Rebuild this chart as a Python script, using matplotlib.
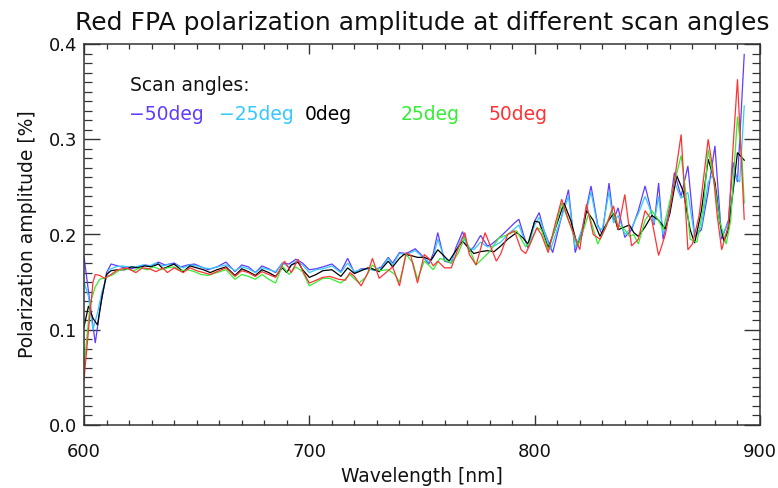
import matplotlib
matplotlib.use("Agg")
import matplotlib.pyplot as plt
from matplotlib.ticker import MultipleLocator

# ---------------- data ----------------
wl_m50 = [600, 602, 605, 607, 610, 612, 615, 618, 621, 624, 627, 630, 633, 636, 640, 643, 646, 649,
          652, 655, 659, 663, 667, 670, 673, 676, 679, 682, 685, 688, 691, 694, 697, 700, 703, 706,
          710, 714, 717, 720, 723, 726, 729, 732, 735, 737, 740, 743, 747, 750, 753, 755, 757, 760,
          763, 765, 768, 771, 773, 776, 779, 781, 784, 788, 791, 793, 795, 797, 800, 802, 804, 808,
          811, 815, 818, 821, 825, 828, 830, 833, 835, 837, 840, 843, 846, 849, 851, 853, 855, 857,
          860, 862, 865, 868, 871, 874, 877, 880, 883, 886, 888, 890, 893]
pol_m50 = [0.177, 0.140, 0.086, 0.120, 0.160, 0.169, 0.167, 0.165, 0.164, 0.166, 0.168, 0.167, 0.171,
           0.168, 0.170, 0.166, 0.168, 0.169, 0.166, 0.163, 0.166, 0.171, 0.161, 0.168, 0.166, 0.160,
           0.167, 0.164, 0.160, 0.170, 0.169, 0.174, 0.170, 0.163, 0.164, 0.166, 0.169, 0.161, 0.175,
           0.160, 0.164, 0.164, 0.163, 0.166, 0.176, 0.170, 0.181, 0.180, 0.185, 0.178, 0.169, 0.180,
           0.202, 0.172, 0.170, 0.186, 0.203, 0.182, 0.187, 0.199, 0.188, 0.190, 0.196, 0.205, 0.212,
           0.216, 0.200, 0.186, 0.214, 0.223, 0.205, 0.181, 0.210, 0.247, 0.181, 0.205, 0.251, 0.210,
           0.200, 0.254, 0.215, 0.228, 0.197, 0.205, 0.225, 0.251, 0.232, 0.210, 0.254, 0.195, 0.230,
           0.265, 0.240, 0.272, 0.198, 0.205, 0.245, 0.293, 0.195, 0.215, 0.276, 0.255, 0.389]

wl_m25 = [600, 602, 604, 606, 608, 611, 614, 617, 620, 623, 626, 629, 632, 635, 638, 641, 644, 647,
          650, 653, 656, 659, 663, 667, 670, 673, 676, 679, 682, 685, 688, 691, 694, 697, 700, 703,
          706, 710, 714, 717, 720, 723, 726, 729, 732, 735, 737, 740, 743, 747, 750, 753, 755, 757,
          760, 763, 765, 768, 771, 773, 776, 779, 782, 785, 788, 791, 793, 795, 797, 800, 802, 804,
          807, 811, 815, 818, 821, 825, 828, 830, 833, 835, 837, 840, 843, 846, 849, 851, 853, 855,
          857, 860, 862, 865, 868, 871, 874, 877, 879, 881, 883, 886, 889, 891, 893]
pol_m25 = [0.150, 0.135, 0.100, 0.118, 0.140, 0.163, 0.166, 0.167, 0.166, 0.166, 0.168, 0.167, 0.170,
           0.167, 0.169, 0.168, 0.165, 0.168, 0.167, 0.165, 0.164, 0.166, 0.168, 0.162, 0.166, 0.164,
           0.160, 0.165, 0.163, 0.161, 0.170, 0.166, 0.172, 0.168, 0.160, 0.163, 0.164, 0.167, 0.160,
           0.170, 0.161, 0.163, 0.164, 0.162, 0.165, 0.175, 0.168, 0.180, 0.179, 0.183, 0.177, 0.171,
           0.176, 0.195, 0.175, 0.172, 0.183, 0.198, 0.186, 0.184, 0.192, 0.187, 0.188, 0.192, 0.200,
           0.206, 0.210, 0.197, 0.188, 0.210, 0.218, 0.205, 0.184, 0.212, 0.240, 0.186, 0.205, 0.245,
           0.208, 0.205, 0.245, 0.212, 0.220, 0.200, 0.207, 0.222, 0.240, 0.228, 0.212, 0.240, 0.200,
           0.225, 0.255, 0.238, 0.244, 0.198, 0.208, 0.255, 0.262, 0.240, 0.198, 0.212, 0.262, 0.255,
           0.335]

wl_0 = [600, 602, 604, 606, 608, 610, 612, 615, 618, 621, 624, 627, 630, 633, 635, 638, 640, 642,
        644, 647, 650, 653, 656, 659, 663, 667, 670, 673, 676, 679, 682, 685, 688, 690, 692, 695,
        697, 700, 703, 706, 710, 714, 717, 720, 723, 726, 728, 731, 735, 737, 740, 742, 745, 748,
        751, 754, 757, 760, 762, 765, 768, 771, 773, 776, 779, 782, 785, 788, 792, 795, 797, 800,
        802, 804, 806, 809, 813, 816, 819, 821, 823, 826, 829, 832, 835, 837, 839, 842, 844, 846,
        849, 852, 855, 858, 860, 863, 866, 869, 871, 874, 877, 880, 882, 884, 886, 888, 890, 893]
pol_0 = [0.103, 0.125, 0.112, 0.105, 0.135, 0.158, 0.162, 0.163, 0.163, 0.166, 0.165, 0.167, 0.166,
         0.169, 0.164, 0.167, 0.169, 0.165, 0.161, 0.167, 0.165, 0.163, 0.160, 0.163, 0.166, 0.157,
         0.164, 0.161, 0.157, 0.163, 0.160, 0.156, 0.165, 0.160, 0.168, 0.171, 0.163, 0.155, 0.158,
         0.162, 0.163, 0.156, 0.165, 0.159, 0.162, 0.165, 0.164, 0.161, 0.172, 0.166, 0.175, 0.179,
         0.178, 0.176, 0.176, 0.173, 0.184, 0.177, 0.172, 0.183, 0.193, 0.185, 0.180, 0.182, 0.183,
         0.182, 0.188, 0.195, 0.202, 0.196, 0.190, 0.214, 0.213, 0.200, 0.186, 0.205, 0.233, 0.215,
         0.188, 0.200, 0.225, 0.215, 0.198, 0.212, 0.222, 0.205, 0.207, 0.210, 0.202, 0.198, 0.208,
         0.220, 0.215, 0.206, 0.222, 0.262, 0.245, 0.205, 0.191, 0.225, 0.279, 0.255, 0.215, 0.193,
         0.205, 0.245, 0.286, 0.278]

wl_p25 = [600, 602, 603, 605, 607, 610, 613, 616, 619, 622, 625, 628, 631, 634, 637, 640, 643, 646,
          649, 652, 655, 659, 663, 667, 670, 673, 676, 679, 682, 685, 688, 691, 694, 697, 700, 703,
          706, 709, 714, 718, 722, 725, 728, 731, 735, 738, 740, 743, 746, 748, 751, 753, 755, 758,
          761, 763, 766, 769, 771, 774, 777, 780, 784, 788, 792, 796, 798, 801, 803, 806, 809, 812,
          815, 819, 821, 824, 828, 831, 834, 837, 840, 842, 844, 846, 849, 852, 855, 857, 860, 865,
          867, 869, 872, 875, 877, 880, 882, 885, 887, 890, 892, 893]
pol_p25 = [0.060, 0.110, 0.130, 0.145, 0.153, 0.155, 0.158, 0.163, 0.164, 0.162, 0.165, 0.163, 0.166,
           0.163, 0.165, 0.166, 0.162, 0.163, 0.161, 0.158, 0.157, 0.160, 0.163, 0.153, 0.158, 0.156,
           0.153, 0.158, 0.153, 0.149, 0.167, 0.158, 0.166, 0.161, 0.146, 0.150, 0.154, 0.154, 0.149,
           0.158, 0.149, 0.155, 0.168, 0.162, 0.163, 0.158, 0.150, 0.179, 0.170, 0.153, 0.172, 0.168,
           0.163, 0.175, 0.172, 0.170, 0.180, 0.197, 0.185, 0.168, 0.175, 0.182, 0.196, 0.200, 0.204,
           0.187, 0.192, 0.207, 0.205, 0.184, 0.205, 0.233, 0.215, 0.188, 0.200, 0.222, 0.190, 0.205,
           0.225, 0.210, 0.205, 0.198, 0.200, 0.190, 0.215, 0.225, 0.215, 0.205, 0.235, 0.283, 0.245,
           0.195, 0.192, 0.230, 0.289, 0.250, 0.215, 0.190, 0.215, 0.324, 0.280, 0.233]

wl_p50 = [600, 602, 604, 605, 607, 609, 612, 615, 619, 623, 626, 629, 632, 635, 637, 640, 644, 647,
          650, 653, 656, 659, 663, 667, 670, 673, 676, 679, 682, 685, 689, 692, 695, 697, 700, 703,
          706, 709, 713, 716, 718, 720, 723, 726, 728, 731, 734, 737, 740, 743, 745, 748, 751, 753,
          755, 757, 760, 763, 766, 769, 771, 774, 776, 778, 780, 783, 785, 788, 791, 794, 796, 798,
          801, 803, 806, 809, 812, 815, 820, 823, 826, 829, 832, 835, 837, 840, 843, 846, 849, 852,
          855, 858, 861, 865, 868, 870, 873, 877, 879, 881, 883, 886, 888, 890, 893]
pol_p50 = [0.047, 0.100, 0.150, 0.158, 0.157, 0.154, 0.158, 0.163, 0.165, 0.160, 0.165, 0.164, 0.161,
           0.165, 0.160, 0.165, 0.160, 0.165, 0.162, 0.160, 0.158, 0.161, 0.165, 0.156, 0.162, 0.160,
           0.156, 0.161, 0.158, 0.155, 0.172, 0.160, 0.174, 0.162, 0.149, 0.152, 0.155, 0.156, 0.153,
           0.152, 0.160, 0.156, 0.146, 0.160, 0.175, 0.154, 0.160, 0.166, 0.146, 0.181, 0.178, 0.149,
           0.179, 0.175, 0.167, 0.172, 0.165, 0.165, 0.185, 0.202, 0.179, 0.168, 0.185, 0.202, 0.190,
           0.172, 0.180, 0.200, 0.204, 0.184, 0.180, 0.190, 0.207, 0.200, 0.181, 0.210, 0.237, 0.215,
           0.184, 0.232, 0.200, 0.195, 0.210, 0.230, 0.205, 0.242, 0.188, 0.195, 0.225, 0.215, 0.178,
           0.200, 0.240, 0.305, 0.184, 0.190, 0.220, 0.300, 0.270, 0.220, 0.184, 0.210, 0.290, 0.363,
           0.216]

series_labels = ["\u221250deg", "\u221225deg", "0deg", "25deg", "50deg"]
series_colors = ["#5f3cff", "#36c8ff", "#000000", "#33ee33", "#ff3333"]
series_x = [wl_m50, wl_m25, wl_0, wl_p25, wl_p50]
series_y = [pol_m50, pol_m25, pol_0, pol_p25, pol_p50]

# ---------------- figure ----------------
plt.rcParams['font.family'] = ['DejaVu Sans']
fig = plt.figure(figsize=(7.78, 4.88), dpi=100)
ax = fig.add_axes([84 / 778, 1 - 425 / 488, 676 / 778, 381 / 488])

for xs, ys, c in zip(series_x, series_y, series_colors):
    ax.plot(xs, ys, color=c, lw=0.9, solid_joinstyle='miter')

ax.set_xlim(600, 900)
ax.set_ylim(0.0, 0.4)
ax.xaxis.set_major_locator(MultipleLocator(100))
ax.xaxis.set_minor_locator(MultipleLocator(10))
ax.yaxis.set_major_locator(MultipleLocator(0.1))
ax.yaxis.set_minor_locator(MultipleLocator(0.01))
ax.yaxis.set_major_formatter(matplotlib.ticker.FormatStrFormatter('%.1f'))

spine_c = "#333333"
for s in ax.spines.values():
    s.set_color(spine_c)
    s.set_linewidth(1.1)
ax.tick_params(axis='both', which='both', direction='in', top=True, right=True,
               colors=spine_c, labelcolor='#111111', labelsize=13)
ax.tick_params(axis='x', which='major', length=7.5, width=1.0, pad=13)
ax.tick_params(axis='x', which='minor', length=3.8, width=0.9)
ax.tick_params(axis='y', which='major', length=11.5, width=1.0, pad=5)
ax.tick_params(axis='y', which='minor', length=5.8, width=0.9)

ax.set_xlabel("Wavelength [nm]", fontsize=13.5, color='#111111', labelpad=4)
ax.set_ylabel("Polarization amplitude [%]", fontsize=13.5, color='#111111', labelpad=8)
ax.set_title("Red FPA polarization amplitude at different scan angles",
             fontsize=18, color='#111111', pad=10)

ax.text(0.068, 0.892, "Scan angles:", transform=ax.transAxes, fontsize=13.5,
        color='#111111', va='center', ha='left')
legend_x = [0.066, 0.200, 0.326, 0.468, 0.599]
for lx, lab, c in zip(legend_x, series_labels, series_colors):
    ax.text(lx, 0.814, lab, transform=ax.transAxes, fontsize=13.5, color=c,
            va='center', ha='left')

fig.savefig("out.png", dpi=100)
